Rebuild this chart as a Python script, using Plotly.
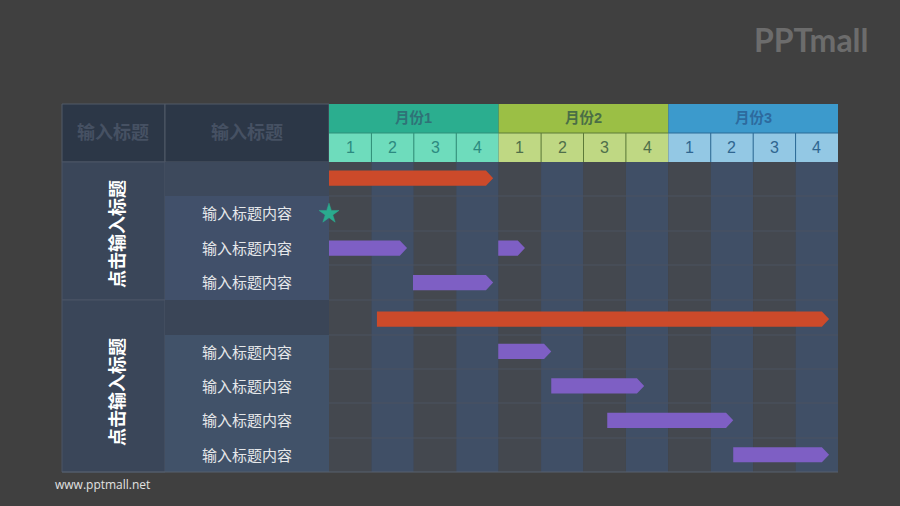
import plotly.graph_objects as go

# chart values
months = ['月份1', '月份2', '月份3']
weeks = ['1', '2', '3', '4']
header_titles = ['输入标题', '输入标题']
group_titles = ['点击输入标题', '点击输入标题']
row_labels = ['', '输入标题内容', '输入标题内容', '输入标题内容', '',
              '输入标题内容', '输入标题内容', '输入标题内容', '输入标题内容']

# tasks, in weeks from the start of the chart
red_rows = [-0.03, 4.06]
red_start = [0.0, 1.13]
red_end = [3.87, 11.79]
purple_rows = [2, 2, 3, 5, 6, 7, 8]
purple_start = [0.0, 3.99, 1.98, 3.99, 5.24, 6.56, 9.53]
purple_end = [1.84, 4.62, 3.87, 5.24, 7.43, 9.53, 11.79]
star_week = [0.0]
star_row = [1]

# page layout in pixels
W, H = 900, 506
GRID_L, GRID_R, GRID_T, GRID_B = 329, 838, 162, 472
TABLE_L, COL2_L = 62, 165
HEAD_T, HEAD_M = 104, 133
ROW_EDGES = [162, 196, 231, 265, 300, 335, 369, 403, 438, 472]

BG = '#404040'
CJK = 'Liberation Sans, Noto Sans CJK SC, sans-serif'
MONTH_COL = ['#2bae8f', '#9bbf45', '#3c9acc']
WEEK_COL = ['#6edcbc', '#bfd883', '#93c8e4']
MONTH_TXT = ['#2f7277', '#4a6e46', '#2d6a9e']
WEEK_TXT = ['#2c8a80', '#4f6f4a', '#2f6690']
WEEK_LINE = ['#2f8f78', '#5c7a38', '#2a6a96']


def px(x):
    return (x - GRID_L) / (GRID_R - GRID_L)


def py(y):
    return (GRID_B - y) / (GRID_B - GRID_T)


def box(x0, y0, x1, y1, color, line=None):
    return dict(type='rect', xref='paper', yref='paper', layer='below',
                x0=px(x0), x1=px(x1), y0=py(y0), y1=py(y1),
                fillcolor=color, line=dict(width=1 if line else 0, color=line or color))


def label(x, y, text, size, color, bold=False, angle=0):
    return dict(xref='paper', yref='paper', x=px(x), y=py(y), text=f'<b>{text}</b>' if bold else text,
                showarrow=False, textangle=angle, xanchor='center', yanchor='middle',
                font=dict(family=CJK, size=size, color=color))


def arrows(rows, starts, ends, tip=0.17, half=0.22):
    # pentagon outline for each task, pointing right
    xs, ys = [], []
    for r, s, e in zip(rows, starts, ends):
        y = r + 0.5
        xs += [s, e - tip, e, e - tip, s, s, None]
        ys += [y - half, y - half, y, y + half, y + half, y - half, None]
    return xs, ys


shapes = []
annotations = []
col_w = (GRID_R - GRID_L) / 12

# left table
shapes.append(box(TABLE_L, HEAD_T, COL2_L, GRID_T, '#2c3747', '#515b69'))
shapes.append(box(COL2_L, HEAD_T, GRID_L, GRID_T, '#2c3747', '#515b69'))
shapes.append(box(TABLE_L, ROW_EDGES[0], COL2_L, ROW_EDGES[4], '#3a4659', '#4a5567'))
shapes.append(box(TABLE_L, ROW_EDGES[4], COL2_L, ROW_EDGES[9], '#3a4659', '#4a5567'))
shapes.append(box(COL2_L, ROW_EDGES[0], GRID_L, ROW_EDGES[1], '#3d495c'))
shapes.append(box(COL2_L, ROW_EDGES[1], GRID_L, ROW_EDGES[4], '#41506a'))
shapes.append(box(COL2_L, ROW_EDGES[4], GRID_L, ROW_EDGES[5], '#3a4557'))
shapes.append(box(COL2_L, ROW_EDGES[5], GRID_L, ROW_EDGES[9], '#415269'))

# week stripes and row lines behind the bars
for i in range(12):
    shapes.append(dict(type='rect', xref='x', yref='paper', layer='below', x0=i, x1=i + 1, y0=0, y1=1,
                       fillcolor='#44484f' if i % 2 == 0 else '#404f66', line=dict(width=0)))
for y in ROW_EDGES[1:-1]:
    shapes.append(dict(type='line', xref='paper', yref='paper', layer='below',
                       x0=0, x1=1, y0=py(y), y1=py(y), line=dict(color='#4b5361', width=1)))
shapes.append(dict(type='line', xref='paper', yref='paper', layer='below',
                   x0=px(TABLE_L), x1=1, y0=0, y1=0, line=dict(color='#56606e', width=1)))

# month and week header
for m, name in enumerate(months):
    x0 = GRID_L + m * 4 * col_w
    shapes.append(box(x0, HEAD_T, x0 + 4 * col_w, HEAD_M, MONTH_COL[m]))
    annotations.append(label(x0 + 2 * col_w, (HEAD_T + HEAD_M) / 2, name, 14.5, MONTH_TXT[m], bold=True))
    for w, wk in enumerate(weeks):
        wx = x0 + w * col_w
        shapes.append(box(wx, HEAD_M, wx + col_w, GRID_T, WEEK_COL[m]))
        annotations.append(label(wx + col_w / 2, (HEAD_M + GRID_T) / 2, wk, 16, WEEK_TXT[m]))
        if w:
            shapes.append(dict(type='line', xref='paper', yref='paper', x0=px(wx), x1=px(wx),
                               y0=py(HEAD_M), y1=py(GRID_T), line=dict(color=WEEK_LINE[m], width=1)))
    shapes.append(dict(type='line', xref='paper', yref='paper', x0=px(x0), x1=px(x0 + 4 * col_w),
                       y0=py(HEAD_M), y1=py(HEAD_M), line=dict(color=WEEK_LINE[m], width=1)))

# table text
annotations.append(label(112.5, 132.5, header_titles[0], 18, '#465163', bold=True))
annotations.append(label(247, 132.5, header_titles[1], 18, '#465163', bold=True))
annotations.append(label(117, 234, group_titles[0], 18, '#ffffff', bold=True, angle=-90))
annotations.append(label(117, 392, group_titles[1], 18, '#ffffff', bold=True, angle=-90))
for r, text in enumerate(row_labels):
    if text:
        annotations.append(label(247, (ROW_EDGES[r] + ROW_EDGES[r + 1]) / 2, text, 15, '#e6e8ea'))

# logo and site address
annotations.append(label(811.5, 39, 'PPTmall', 32, '#6c6c6c', bold=True))
annotations[-1]['font']['family'] = 'Lato, Open Sans, sans-serif'
annotations.append(label(102, 484, 'www.pptmall.net', 12, '#e2e2e2'))
annotations[-1]['font']['family'] = 'Open Sans, Liberation Sans, sans-serif'

fig = go.Figure()

x_red, y_red = arrows(red_rows, red_start, red_end)
fig.add_trace(go.Scatter(x=x_red, y=y_red, mode='lines', fill='toself', fillcolor='#cc4a2a',
                         line=dict(width=0), hoverinfo='skip'))
x_pur, y_pur = arrows(purple_rows, purple_start, purple_end)
fig.add_trace(go.Scatter(x=x_pur, y=y_pur, mode='lines', fill='toself', fillcolor='#7e5fc4',
                         line=dict(width=0), hoverinfo='skip'))
fig.add_trace(go.Scatter(x=star_week, y=[r + 0.5 for r in star_row], mode='markers', cliponaxis=False,
                         marker=dict(symbol='star', size=15, color='#2aab8e', line=dict(width=0.5, color='#2aab8e')),
                         hoverinfo='skip'))

fig.update_layout(
    width=W, height=H,
    autosize=False,
    paper_bgcolor=BG, plot_bgcolor='rgba(0,0,0,0)',
    margin=dict(l=GRID_L, r=W - GRID_R, t=GRID_T, b=H - GRID_B),
    showlegend=False,
    shapes=shapes,
    annotations=annotations,
    xaxis=dict(range=[0, 12], visible=False, fixedrange=True),
    yaxis=dict(range=[9, 0], visible=False, fixedrange=True),
)

# page default margin would shift the chart by 8px
fig.write_html("out.html", config=dict(displayModeBar=False),
               post_script="document.body.style.margin='0';document.body.style.overflow='hidden';")
